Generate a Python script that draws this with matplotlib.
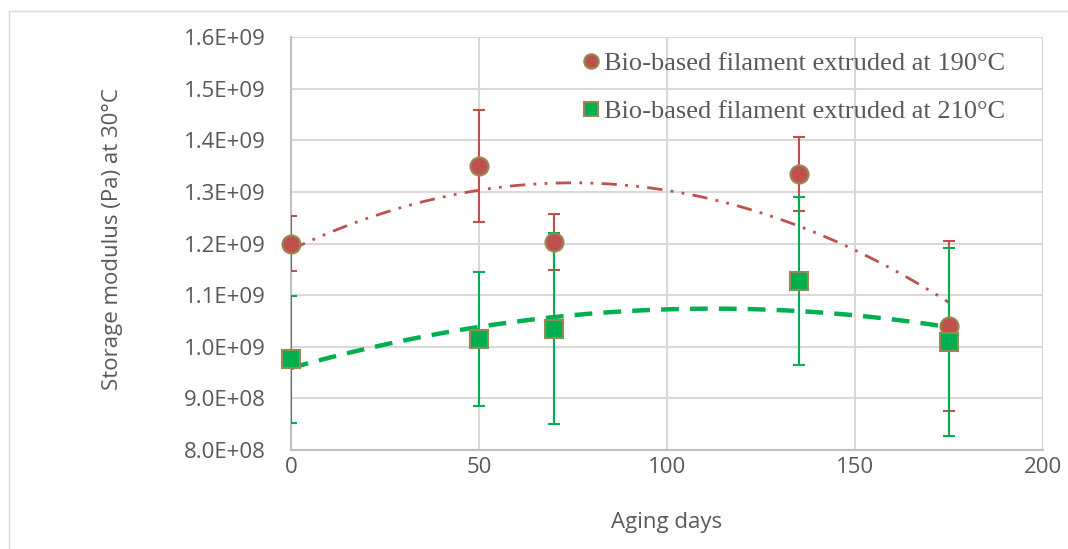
import numpy as np
import matplotlib
matplotlib.use("Agg")
import matplotlib.pyplot as plt
from matplotlib.lines import Line2D

# Data
days = [0, 50, 70, 135, 175]
mod_190 = [1.200e9, 1.350e9, 1.203e9, 1.335e9, 1.040e9]
err_190 = [0.053e9, 0.108e9, 0.055e9, 0.072e9, 0.165e9]
mod_210 = [0.976e9, 1.015e9, 1.035e9, 1.127e9, 1.009e9]
err_210 = [0.123e9, 0.130e9, 0.185e9, 0.163e9, 0.182e9]
label_190 = "Bio-based filament extruded at 190°C"
label_210 = "Bio-based filament extruded at 210°C"

red = "#C0504D"
green = "#00B050"
edge = "#948A54"
txt = "#595959"

fig = plt.figure(figsize=(10.68, 5.49), dpi=100)
ax = fig.add_axes([291/1068, 1-450/549, (1043-291)/1068, (450-37)/549])

# figure border
fig.add_artist(Line2D([9/1068, 9/1068], [0, 1-11/549], transform=fig.transFigure, color="#D9D9D9", lw=1))
fig.add_artist(Line2D([9/1068, 1], [1-11/549, 1-11/549], transform=fig.transFigure, color="#D9D9D9", lw=1))

# trendlines (2nd-order polynomial fits)
xs = np.linspace(0, 175, 200)
p1 = np.polyfit(days, mod_190, 2)
p2 = np.polyfit(days, mod_210, 2)
ax.plot(xs, np.polyval(p1, xs), color=red, lw=2, dashes=(5.5, 3, 1, 3, 1, 3), zorder=3)
ax.plot(xs, np.polyval(p2, xs), color=green, lw=3.2, dashes=(4, 2.5), zorder=3)

ax.errorbar(days, mod_190, yerr=err_190, fmt="none", ecolor=red, elinewidth=1.5, capsize=4.5, capthick=1.5, zorder=4)
ax.errorbar(days, mod_210, yerr=err_210, fmt="none", ecolor=green, elinewidth=1.5, capsize=4.5, capthick=1.5, zorder=4)
ax.plot(days, mod_190, "o", ms=13, mfc=red, mec=edge, mew=1.5, ls="none", zorder=5, label=label_190, clip_on=False)
ax.plot(days, mod_210, "s", ms=12.5, mfc=green, mec=edge, mew=1.5, ls="none", zorder=6, label=label_210, clip_on=False)

ax.set_xlim(0, 200)
ax.set_ylim(0.8e9, 1.6e9)
ax.set_xticks([0, 50, 100, 150, 200])
yt = np.arange(8, 16.5, 1) * 1e8
ax.set_yticks(yt)
ax.set_yticklabels([f"{v:.1E}" for v in yt])

ax.grid(True, color="#D9D9D9", lw=1.5)
ax.set_axisbelow(True)
for s in ["top", "right"]:
    ax.spines[s].set_visible(False)
for s in ["left", "bottom"]:
    ax.spines[s].set_color("#BFBFBF")
    ax.spines[s].set_linewidth(1.5)
ax.tick_params(axis="y", length=0, labelsize=16, colors=txt, pad=18)
ax.tick_params(axis="x", length=0, labelsize=16, colors=txt, pad=5)
for l in ax.get_xticklabels() + ax.get_yticklabels():
    l.set_family("Open Sans")

ax.set_xlabel("Aging days", fontsize=16, color=txt, family="Open Sans")
ax.set_ylabel("Storage modulus (Pa) at 30°C", fontsize=16, color=txt, family="Open Sans")
ax.xaxis.set_label_coords(0.5, -0.15)
ax.yaxis.set_label_coords(-0.224, 0.51)

leg = ax.legend(loc="upper right", frameon=False, prop={"family": "Liberation Serif", "size": 19},
                handlelength=0.7, handletextpad=0.15, labelspacing=0.95, borderaxespad=0, borderpad=0,
                markerscale=0.8, bbox_to_anchor=(0.95, 0.965))
for t in leg.get_texts():
    t.set_color(txt)

fig.savefig("out.png", dpi=100)
